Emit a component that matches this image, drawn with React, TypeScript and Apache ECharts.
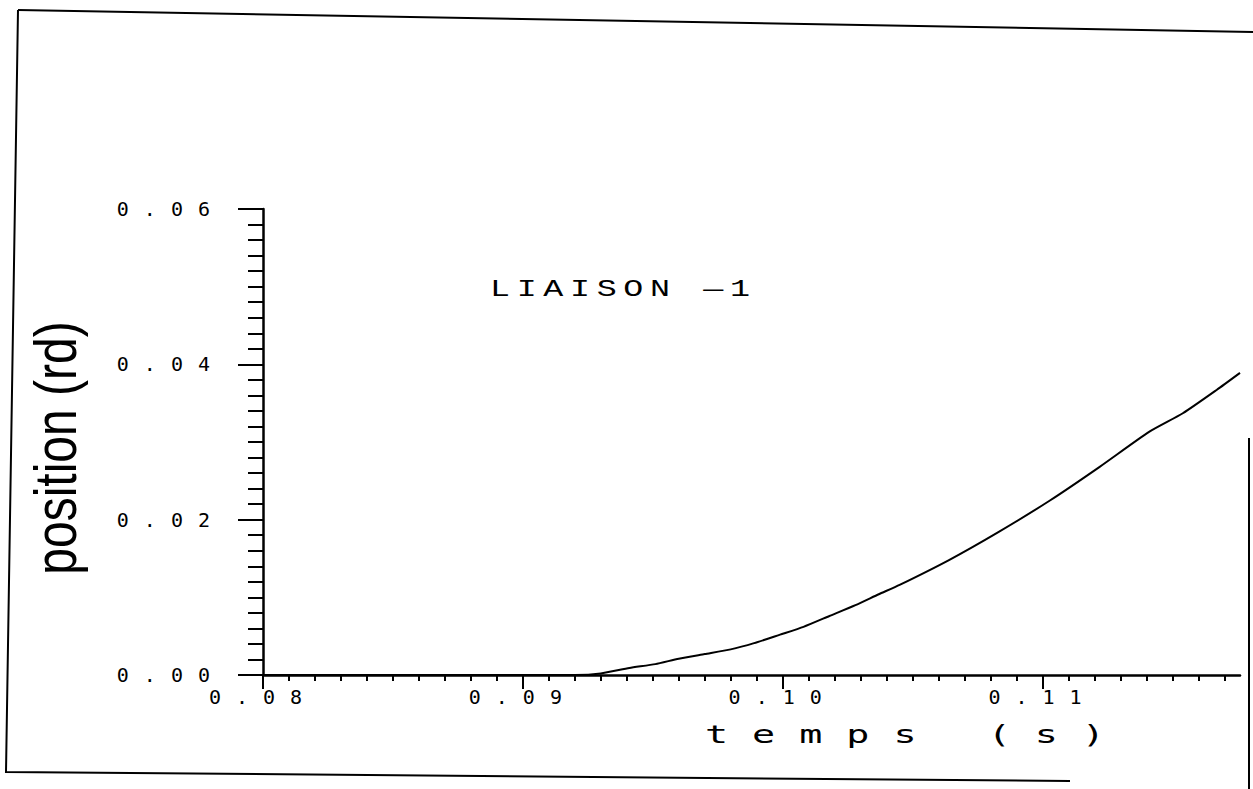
import React, { useEffect, useRef } from "react";
import * as echarts from "echarts";

// ---- data ----
const timeValues = [
  0.08, 0.09, 0.091, 0.092, 0.093, 0.0941, 0.0951, 0.096, 0.097, 0.098, 0.0989,
  0.0999, 0.1008, 0.1018, 0.1028, 0.1037, 0.1045, 0.1064, 0.1083, 0.1103,
  0.1122, 0.1141, 0.1154, 0.1167, 0.1176,
];
const positionValues = [
  0, 0, 0, 0, 0.0002, 0.0009, 0.0014, 0.0021, 0.0027, 0.0033, 0.0041, 0.0052,
  0.0062, 0.0076, 0.009, 0.0104, 0.0116, 0.0148, 0.0184, 0.0225, 0.0268,
  0.0313, 0.0337, 0.0367, 0.0389,
];

const xMajorTicks = [0.08, 0.09, 0.1, 0.11];
const xMinorTicks = Array.from({ length: 38 }, (_, i) => (80 + i) / 1000);
const xMin = 0.08;
const xMax = 0.1176;
const yMin = 0;
const yMax = 0.06;
const yInterval = 0.02;

const titleText = "LIAISON —1";
const xName = "temps (s)";
const yName = "position (rd)";

const MONO = '"DejaVu Sans Mono", monospace';
const TITLE_FONT = '"Liberation Mono", monospace';

export default function App() {
  const ref = useRef<HTMLDivElement>(null);

  useEffect(() => {
    if (!ref.current) return;
    const chart = echarts.init(ref.current, null, { renderer: "svg" });
    const data = timeValues.map((t, i) => [t, positionValues[i]]);

    chart.setOption({
      animation: false,
      backgroundColor: "#ffffff",
      grid: { left: 263, top: 209, width: 977, height: 466, containLabel: false },
      xAxis: [
        {
          type: "value",
          min: xMin,
          max: xMax,
          position: "bottom",
          axisLine: { show: true, lineStyle: { color: "#000", width: 2.5 } },
          axisTick: {
            show: true,
            customValues: xMinorTicks,
            length: 6,
            lineStyle: { color: "#000", width: 2 },
          },
          axisLabel: { show: false },
          splitLine: { show: false },
        },
        {
          type: "value",
          min: xMin,
          max: xMax,
          position: "bottom",
          axisLine: { show: false },
          axisTick: {
            show: true,
            customValues: xMajorTicks,
            length: 14,
            lineStyle: { color: "#000", width: 2 },
          },
          axisLabel: {
            show: true,
            customValues: xMajorTicks,
            formatter: (v: number) => v.toFixed(2),
            fontFamily: MONO,
            fontSize: 20,
            color: "#000",
            margin: 12,
          },
          splitLine: { show: false },
        },
      ],
      yAxis: {
        type: "value",
        min: yMin,
        max: yMax,
        interval: yInterval,
        axisLine: { show: true, lineStyle: { color: "#000", width: 2.5 } },
        axisTick: { show: true, length: 25, lineStyle: { color: "#000", width: 2 } },
        minorTick: { show: true, splitNumber: 10, length: 15, lineStyle: { color: "#000", width: 2 } },
        axisLabel: {
          formatter: (v: number) => v.toFixed(2),
          fontFamily: MONO,
          fontSize: 20,
          color: "#000",
          margin: 38,
        },
        splitLine: { show: false },
        minorSplitLine: { show: false },
      },
      series: [
        {
          type: "line",
          xAxisIndex: 0,
          data,
          showSymbol: false,
          smooth: 0.2,
          lineStyle: { color: "#000", width: 2 },
        },
      ],
      graphic: [
        {
          type: "polyline",
          shape: { points: [[18, 10], [1253, 32]] },
          style: { stroke: "#000", lineWidth: 2, fill: null },
        },
        {
          type: "polyline",
          shape: { points: [[18, 10], [6, 772], [1070, 781]] },
          style: { stroke: "#000", lineWidth: 2, fill: null },
        },
        {
          type: "polyline",
          shape: { points: [[1249, 438], [1249, 789]] },
          style: { stroke: "#000", lineWidth: 2, fill: null },
        },
        {
          type: "text",
          x: 490,
          y: 290,
          scaleX: 1.45,
          style: {
            text: titleText,
            fontFamily: TITLE_FONT,
            fontSize: 23,
            fill: "#000",
            textAlign: "left",
            textVerticalAlign: "middle",
          },
        },
        {
          type: "text",
          x: 705,
          y: 735,
          scaleX: 1.6,
          style: {
            text: xName,
            fontFamily: MONO,
            fontSize: 24,
            fill: "#000",
            textAlign: "left",
            textVerticalAlign: "middle",
          },
        },
        {
          type: "text",
          x: 56,
          y: 448,
          rotation: Math.PI / 2,
          scaleX: 0.8,
          style: {
            text: yName,
            fontFamily: '"Liberation Sans", Arial, sans-serif',
            fontSize: 60,
            fill: "#000",
            textAlign: "center",
            textVerticalAlign: "middle",
          },
        },
      ],
    });

    return () => chart.dispose();
  }, []);

  return (
    <>
      <style>{`
        #plotter text { letter-spacing: 15px; }
        #plotter text[style*="Liberation Mono"] { letter-spacing: 4.6px; }
        #plotter text[style*="Liberation Sans"] { letter-spacing: 0; }
      `}</style>
      <div
        id="plotter"
        ref={ref}
        style={{ position: "fixed", left: 0, top: 0, width: 1253, height: 789, background: "#fff" }}
      />
    </>
  );
}
